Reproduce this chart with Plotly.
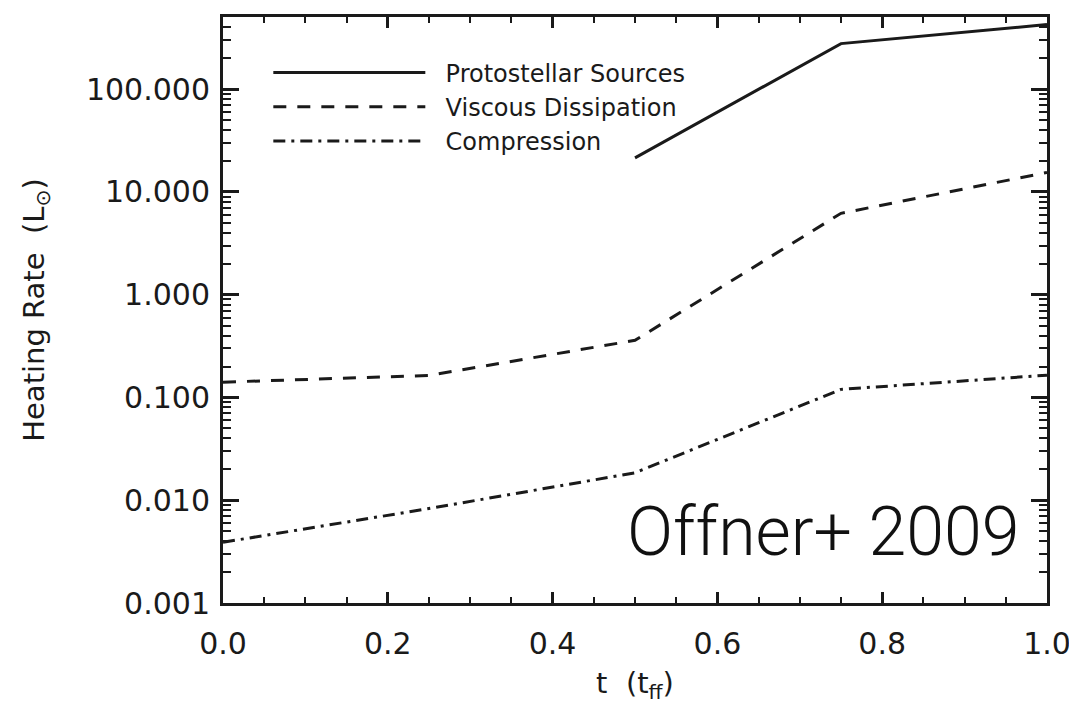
import plotly.graph_objects as go
import numpy as np

# Data
t_proto = [0.5, 0.75, 1.0]
proto = [21.5, 278.0, 426.0]

t_visc = [0.0, 0.25, 0.5, 0.75, 1.0]
visc = [0.141, 0.164, 0.36, 6.2, 15.5]

t_comp = [0.0, 0.25, 0.5, 0.75, 1.0]
comp = [0.0039, 0.0083, 0.0185, 0.12, 0.165]

names = ["Protostellar Sources", "Viscous Dissipation", "Compression"]

ytickvals = [0.001, 0.01, 0.1, 1, 10, 100]
yticktext = ["0.001", "0.010", "0.100", "1.000", "10.000", "100.000"]
xtickvals = [0.0, 0.2, 0.4, 0.6, 0.8, 1.0]
xticktext = ["0.0", "0.2", "0.4", "0.6", "0.8", "1.0"]

FONT = "DejaVu Sans"
INK = "#1a1a1a"
PAD = "\u00a0\u00a0"

fig = go.Figure()
fig.add_trace(go.Scatter(x=t_proto, y=proto, mode="lines", name=PAD + names[0],
                         line=dict(color=INK, width=3, dash="solid")))
fig.add_trace(go.Scatter(x=t_visc, y=visc, mode="lines", name=PAD + names[1],
                         line=dict(color=INK, width=3, dash="13px,11px")))
fig.add_trace(go.Scatter(x=t_comp, y=comp, mode="lines", name=PAD + names[2],
                         line=dict(color=INK, width=3, dash="12px,6px,3px,6px")))

minor_y = [m * 10.0 ** e for e in range(-3, 3) for m in range(2, 10)]

fig.update_layout(
    width=1077, height=704,
    margin=dict(l=215, r=38, t=9, b=109, autoexpand=False),
    paper_bgcolor="white", plot_bgcolor="white",
    font=dict(family=FONT, color=INK),
    showlegend=True,
    legend=dict(x=0.055, y=0.943, xanchor="left", yanchor="top",
                bgcolor="rgba(0,0,0,0)", itemwidth=152, tracegroupgap=0,
                font=dict(size=24, family=FONT, color=INK)),
    xaxis=dict(range=[0, 1], tickmode="array", tickvals=xtickvals, ticktext=xticktext,
               ticks="inside", ticklen=11, tickwidth=2.5, tickcolor=INK,
               showline=True, linewidth=3, linecolor=INK, mirror="allticks",
               showgrid=False, zeroline=False, automargin=False,
               tickfont=dict(size=30, family=FONT),
               ticklabelstandoff=12,
               minor=dict(ticks="inside", ticklen=6, tickwidth=2, tickcolor=INK,
                          dtick=0.05, showgrid=False),
               title=dict(text="t  (t<sub>ff</sub>)", font=dict(size=29, family=FONT), standoff=13)),
    yaxis=dict(type="log", range=[-3, 2.703], tickmode="array", tickvals=ytickvals,
               ticktext=yticktext,
               ticks="inside", ticklen=16, tickwidth=2.5, tickcolor=INK,
               showline=True, linewidth=3, linecolor=INK, mirror="allticks",
               showgrid=False, zeroline=False, automargin=False,
               tickfont=dict(size=30, family=FONT),
               ticklabelstandoff=4,
               minor=dict(ticks="inside", ticklen=8, tickwidth=2, tickcolor=INK,
                          tickvals=minor_y, showgrid=False),
               title=dict(text="Heating Rate  (L<sub>⊙</sub>)", font=dict(size=29, family=FONT), standoff=33)),
)

fig.add_annotation(text="Offner+ 2009", xref="paper", yref="paper", x=0.969, y=0.122,
                   xanchor="right", yanchor="middle", showarrow=False,
                   font=dict(size=68, family="Roboto", weight=300, color="#111111"))

fig.write_html("out.html")
